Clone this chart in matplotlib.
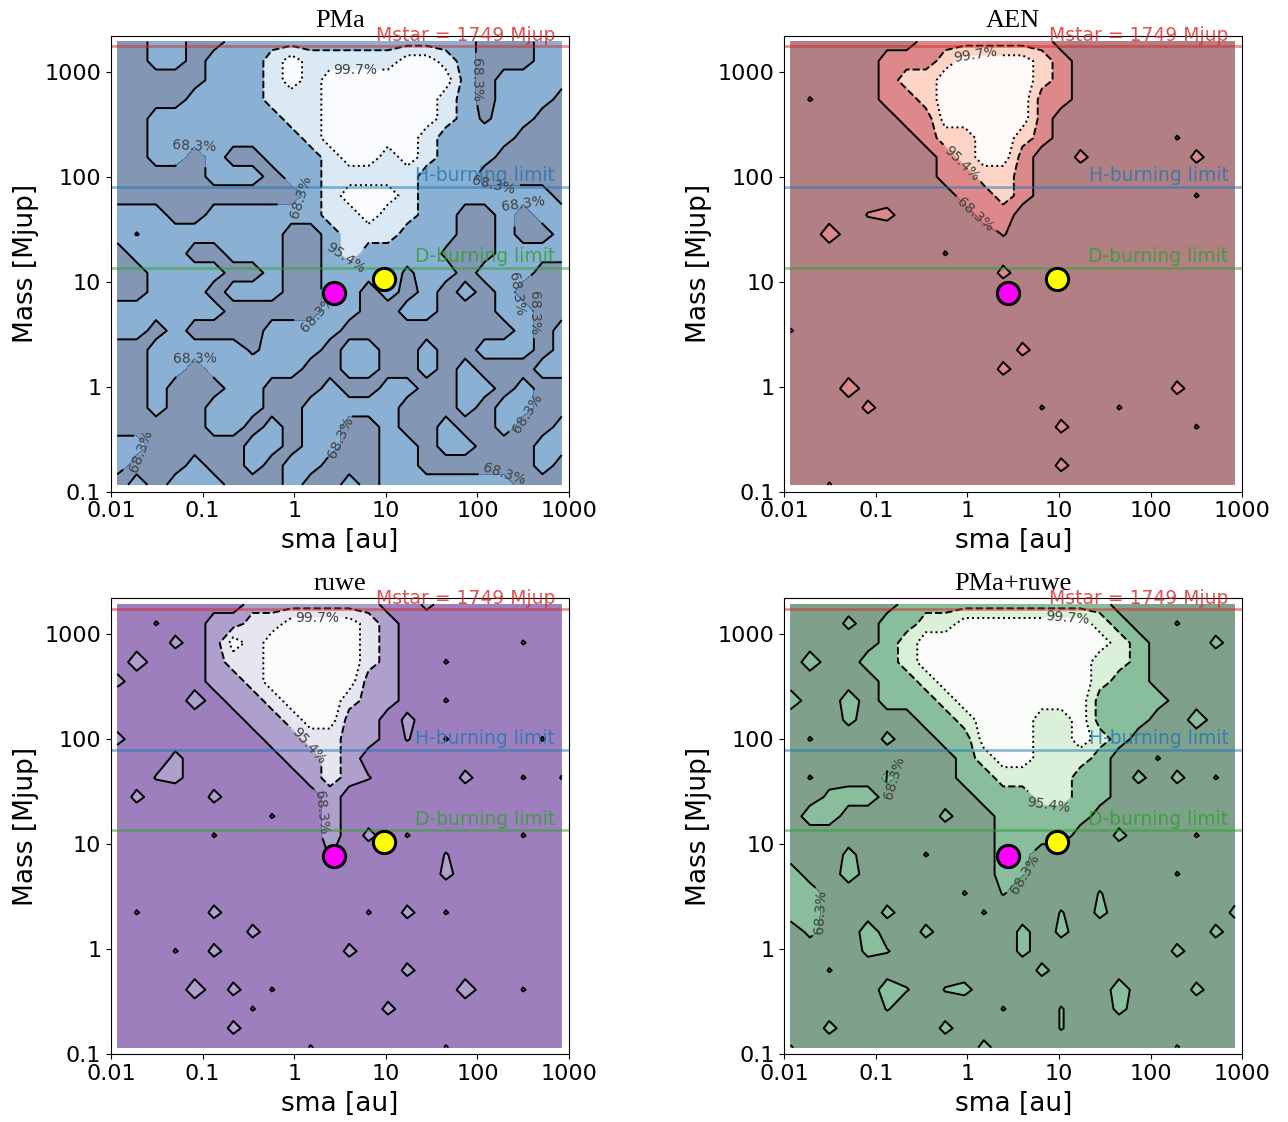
import numpy as np
import matplotlib
matplotlib.use('Agg')
import matplotlib.pyplot as plt
import matplotlib.transforms as mtransforms

# grid of the detection maps (log spaced sma and mass)
sma = np.logspace(np.log10(0.0117), np.log10(832), 24)
mass = np.logspace(np.log10(0.116), np.log10(1930), 24)

# confidence band, one string per mass row, top row first
# 0: <68.3%  1: 68.3-95.4%  2: 95.4-99.7%  3: >99.7%
# 'a' and ',' are small islands above 68.3%, 'o' and '.' small holes below it
band_value = {'0': 0.0, 'o': 0.3, '.': 0.45, ',': 0.56, 'a': 0.75,
              '1': 1.0, '2': 2.0, '3': 3.0}

pma_rows = [
    "001100111111" "111111100011",
    "001101112322" "222332100011",
    "000001112323" "333333101111",
    "000011112223" "333332101110",
    "001111111223" "3333321o1100",
    "001111111123" "333321111000",
    "001101001112" "332321110000",
    "000001110112" "222211100000",
    "000000000012" "333211111110",
    "111001111112" "232211001011",
    "1.1111111001" "222111001001",
    "011100111001" "21111o001111",
    "001111001001" "111o11011100",
    "001110111001" "101010101000",
    "111111000001" "100110001100",
    "110100001111" "000000000101",
    "0011111o1110" "110010011101",
    "001101111100" "110010100011",
    "001000110001" "001100110100",
    "001001110011" "111000101100",
    "000001101011" "001001001001",
    "110000011011" "001101100011",
    "100010010110" "001100000010",
    "010111000100" "101111111000",
]

aen_rows = [
    "000000011111110000000000",
    "000001112333321000000000",
    "000001223333321000000000",
    "0,0001123333311000000000",
    "000000113333310000000000",
    "00000001223321000000,000",
    "000000001233100a00000a00",
    "000000001122100000000000",
    "000000000112100000000,00",
    "0000,a000011000000000000",
    "00100000000,000000000000",
    "00000000,000000000000000",
    "00000000000a000000000000",
    "000000000000000000000000",
    "000000000000000000000000",
    ",00000000000000000000000",
    "000000000000a00000000000",
    "00000000000a000000000000",
    "00010000000000000000a000",
    "0000a00000000,000,000000",
    "00000000000000a000000,00",
    "000000000000000000000000",
    "00000000000000a000000000",
    "00,000000000000000000000",
]

ruwe_rows = [
    "0000000111111100a0000000",
    "00,001122333321000000000",
    "000a01323333321000000,00",
    "01000122333332100,000000",
    "a00001123333311000000000",
    "00001011233321100,000000",
    "000000011233110a00000000",
    "a00000001122110,0,0000,0",
    "000a00000112100000000000",
    "00,a000000121,0000a00,0,",
    "0a000a000001000000000000",
    "00000000,001000000000000",
    "00000,0000010a0,00000,00",
    "00000000000,00000,000000",
    "00000000000000000a000000",
    "000000000000000000000000",
    "0,000a0000000,0a0,000000",
    "0000000a0000000000000000",
    "000,0a000000a00000000000",
    "000000000000000a00000000",
    "000010a0,000000000100,00",
    "0000000,000000a000000000",
    "000000a00000000000000000",
    "0000000000,000000,000000",
]

comb_rows = [
    "000000111111111110000000",
    "000a0112233333332100,000",
    "0000012333333333321000a0",
    "010011233333333322100000",
    "000001123333333321100000",
    "100101112333333311110000",
    "000a00011233322311100100",
    "0,000a001133322321000000",
    "0000000001233222100,0000",
    "0,000a000112222110a0a0,0",
    "00a110000011122110000000",
    "01100000a001111100000000",
    "00000000000111100a000,00",
    "000a000,0001a00000000000",
    "100100000001,0000000,000",
    "110000000,0,0000,0000000",
    "11000a0000,000,0a000000a",
    "0a00100a0000a0a0000000a0",
    "0000a,000000a0000000a000",
    "00,0000000000a0000000000",
    "000001,0,a00000001000a00",
    "00000,00000,00,00a000000",
    "00a00000a00000,000000000",
    ",000000000a000000000,000",
]

# contour between neighbouring bands
levels = [0.5, 1.5, 2.5]
level_style = {0.5: 'solid', 1.5: 'dashed', 2.5: 'dotted'}
level_fmt = {0.5: '68.3%', 1.5: '95.4%', 2.5: '99.7%'}

mstar = 1749      # Mjup
h_burning = 80    # Mjup
d_burning = 13.6  # Mjup

companion_b = (2.75, 7.8)
companion_c = (9.5, 10.5)

# where the contour labels sit (sma, mass) for each level
pma_labels = {
    0.5: [(0.069, 249), (1.16, 64), (121, 834), (148, 70), (375, 64),
          (1.77, 5.0), (216, 6.3), (547, 5.4), (0.083, 1.92),
          (3.77, 0.33), (0.022, 0.234), (307, 0.64), (245, 0.188)],
    1.5: [(3.87, 17.9)],
    2.5: [(4.6, 1349)],
}
aen_labels = {0.5: [(1.21, 43)], 1.5: [(0.83, 129)], 2.5: [(1.21, 1294)]}
ruwe_labels = {0.5: [(1.77, 20)], 1.5: [(1.16, 71)], 2.5: [(1.77, 1430)]}
comb_labels = {0.5: [(0.19, 37), (5.9, 4.8), (0.033, 2.26)],
               1.5: [(7.6, 25)], 2.5: [(12.2, 1372)]}

panels = [
    ('PMa', pma_rows, 'Blues', pma_labels, [0.0862, 0.5618, 0.3556, 0.4064]),
    ('AEN', aen_rows, 'Reds', aen_labels, [0.6089, 0.5618, 0.3556, 0.4064]),
    ('ruwe', ruwe_rows, 'Purples', ruwe_labels, [0.0862, 0.0603, 0.3556, 0.4064]),
    ('PMa+ruwe', comb_rows, 'Greens', comb_labels, [0.6089, 0.0603, 0.3556, 0.4064]),
]


def band_grid(rows):
    bad = [i for i, r in enumerate(rows) if len(r) != len(sma)]
    if bad or len(rows) != len(mass):
        raise ValueError(f'bad rows {bad}, n={len(rows)}')
    z = np.array([[band_value[c] for c in r] for r in rows])
    return z[::-1]


fig = plt.figure(figsize=(12.88, 11.22), dpi=100)

for title, rows, cmap_name, label_pos, rect in panels:
    ax = fig.add_axes(rect)
    ax.set_xscale('log')
    ax.set_yscale('log')
    cmap = plt.get_cmap(cmap_name)
    z = band_grid(rows)

    ax.contourf(sma, mass, z, levels=[-0.5] + levels + [3.5],
                colors=[cmap(1.0), cmap(0.8), cmap(0.3), cmap(0.0)], alpha=0.5)
    for lev in levels:
        cs = ax.contour(sma, mass, z, levels=[lev], colors='k',
                        linestyles=level_style[lev], linewidths=1.4)
        ax.clabel(cs, fmt=level_fmt, fontsize=10, colors='0.25',
                  inline=True, manual=label_pos[lev])

    trans = mtransforms.blended_transform_factory(ax.transAxes, ax.transData)
    ax.axhline(mstar, color='tab:red', alpha=0.5, lw=2)
    ax.text(0.97, mstar * 1.02, f'Mstar = {mstar} Mjup', color='tab:red', alpha=0.8,
            fontsize=13.5, ha='right', va='bottom', transform=trans)
    ax.axhline(h_burning, color='tab:blue', alpha=0.5, lw=2)
    ax.text(0.97, h_burning * 1.03, 'H-burning limit', color='tab:blue', alpha=0.8,
            fontsize=13.5, ha='right', va='bottom', transform=trans)
    ax.axhline(d_burning, color='tab:green', alpha=0.5, lw=2)
    ax.text(0.97, d_burning * 1.03, 'D-burning limit', color='tab:green', alpha=0.8,
            fontsize=13.5, ha='right', va='bottom', transform=trans)

    ax.plot(*companion_b, 'o', ms=16, mfc='magenta', mec='k', mew=2.2, zorder=6)
    ax.plot(*companion_c, 'o', ms=16, mfc='yellow', mec='k', mew=2.2, zorder=6)

    ax.set_xlim(0.01, 1000)
    ax.set_ylim(0.1, 2200)
    ax.set_xticks([0.01, 0.1, 1, 10, 100, 1000],
                  labels=['0.01', '0.1', '1', '10', '100', '1000'])
    ax.set_yticks([0.1, 1, 10, 100, 1000], labels=['0.1', '1', '10', '100', '1000'])
    ax.minorticks_off()
    ax.tick_params(labelsize=16)
    ax.set_xlabel('sma [au]', fontsize=19, labelpad=5)
    ax.set_ylabel('Mass [Mjup]', fontsize=19, labelpad=4)
    ax.set_title(title, fontsize=19, family='Liberation Serif')

fig.savefig('out.png', dpi=100)
